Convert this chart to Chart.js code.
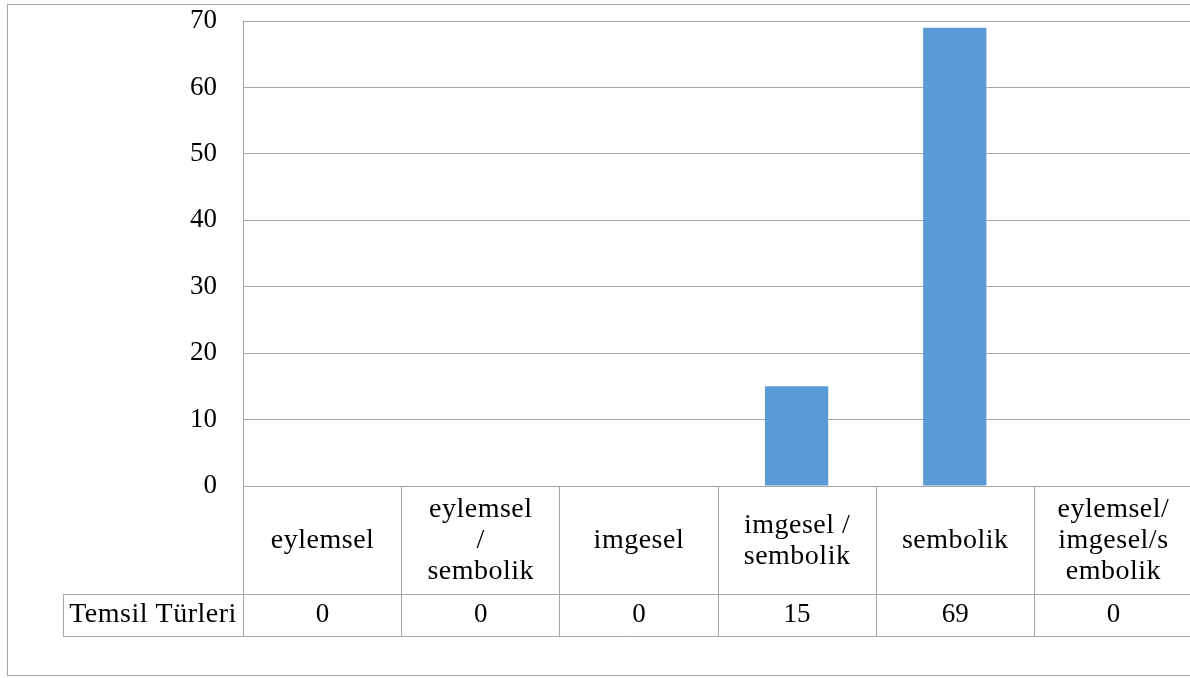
<!DOCTYPE html>
<html>
<head>
<meta charset="utf-8">
<script src="https://cdn.jsdelivr.net/npm/chart.js@4/dist/chart.umd.min.js"></script>
<style>
  html, body { margin: 0; padding: 0; overflow: hidden; background: #fff; }
  #wrap { width: 1200px; height: 678px; position: relative; }
</style>
</head>
<body>
<div id="wrap"><canvas id="c" width="1200" height="678"></canvas></div>
<script>
// Category labels (already broken into lines as they sit in the table header)
const categories = [
  ['eylemsel'],
  ['eylemsel', '/', 'sembolik'],
  ['imgesel'],
  ['imgesel /', 'sembolik'],
  ['sembolik'],
  ['eylemsel/', 'imgesel/s', 'embolik']
];
const seriesName = 'Temsil Türleri';
const seriesValues = [0, 0, 0, 15, 69, 0];
const yTicks = [0, 10, 20, 30, 40, 50, 60, 70];

const FONT_FAMILY = '"Liberation Serif", "Times New Roman", serif';
const FONT_SIZE = 27;
const TEXT_SIZE = 28;
const LINE = '#a6a6a6';
const HEADER_H = 108;
const ROW_H = 42;
const LABEL_LEFT = 63;
const LINE_GAP = 31;

// Frame around the whole chart and the data table under the plot
const dataTable = {
  id: 'dataTable',
  beforeDraw(chart) {
    const ctx = chart.ctx;
    ctx.save();
    ctx.fillStyle = '#fff';
    ctx.fillRect(0, 0, chart.width, chart.height);
    ctx.strokeStyle = LINE;
    ctx.lineWidth = 1;
    ctx.strokeRect(7.5, 4.5, 1400, 671);
    ctx.restore();
  },
  afterDraw(chart) {
    const { ctx, chartArea } = chart;
    const x = chart.scales.x;
    const n = categories.length;
    const step = (chartArea.right - chartArea.left) / n;
    const top = chartArea.bottom;
    const headBottom = top + HEADER_H;
    const rowBottom = headBottom + ROW_H;
    const px = v => Math.round(v) + 0.5;

    ctx.save();
    ctx.strokeStyle = LINE;
    ctx.lineWidth = 1;
    ctx.beginPath();
    for (let i = 0; i < n; i++) {
      const left = x.getPixelForValue(i) - step / 2;
      ctx.moveTo(px(left), top);
      ctx.lineTo(px(left), rowBottom);
    }
    const lastRight = x.getPixelForValue(n - 1) + step / 2;
    ctx.moveTo(px(lastRight), top);
    ctx.lineTo(px(lastRight), rowBottom);
    // row label cell
    ctx.moveTo(px(LABEL_LEFT), px(headBottom));
    ctx.lineTo(px(LABEL_LEFT), px(rowBottom));
    ctx.moveTo(LABEL_LEFT, px(headBottom));
    ctx.lineTo(lastRight, px(headBottom));
    ctx.moveTo(LABEL_LEFT, px(rowBottom));
    ctx.lineTo(lastRight, px(rowBottom));
    ctx.stroke();

    ctx.fillStyle = '#000';
    ctx.textAlign = 'center';
    ctx.textBaseline = 'middle';
    const headMid = top + HEADER_H / 2 + 1;
    const rowMid = headBottom + ROW_H / 2;
    const words = () => { ctx.font = TEXT_SIZE + 'px ' + FONT_FAMILY; ctx.letterSpacing = '0.5px'; };
    const digits = () => { ctx.font = FONT_SIZE + 'px ' + FONT_FAMILY; ctx.letterSpacing = '0px'; };
    categories.forEach((lines, i) => {
      const cx = x.getPixelForValue(i) + 0.5;
      words();
      lines.forEach((t, j) => {
        ctx.fillText(t, cx, headMid + (j - (lines.length - 1) / 2) * LINE_GAP);
      });
      digits();
      ctx.fillText(String(chart.data.datasets[0].data[i]), cx, rowMid);
    });
    words();
    ctx.fillText(seriesName, (LABEL_LEFT + chartArea.left) / 2, rowMid);
    ctx.restore();
  }
};

new Chart(document.getElementById('c'), {
  type: 'bar',
  data: {
    labels: categories,
    datasets: [{
      label: seriesName,
      data: seriesValues,
      backgroundColor: '#5b9bd5',
      borderWidth: 0,
      categoryPercentage: 1,
      barPercentage: 0.4
    }]
  },
  options: {
    responsive: false,
    animation: false,
    devicePixelRatio: 1,
    layout: { padding: { left: 0, top: 21, right: 8, bottom: 192 } },
    plugins: { legend: { display: false }, tooltip: { enabled: false } },
    scales: {
      x: { display: false },
      y: {
        min: yTicks[0],
        max: yTicks[yTicks.length - 1],
        afterFit(s) { s.width = 243; s.paddingTop = 0; s.paddingBottom = 0; },
        afterBuildTicks(s) { s.ticks = yTicks.map(v => ({ value: v })); },
        grid: { color: LINE, lineWidth: 1, drawTicks: false },
        border: { display: true, color: LINE, width: 1 },
        ticks: {
          padding: 26,
          color: '#000',
          font: { family: FONT_FAMILY, size: FONT_SIZE }
        }
      }
    }
  },
  plugins: [dataTable]
});
</script>
</body>
</html>
